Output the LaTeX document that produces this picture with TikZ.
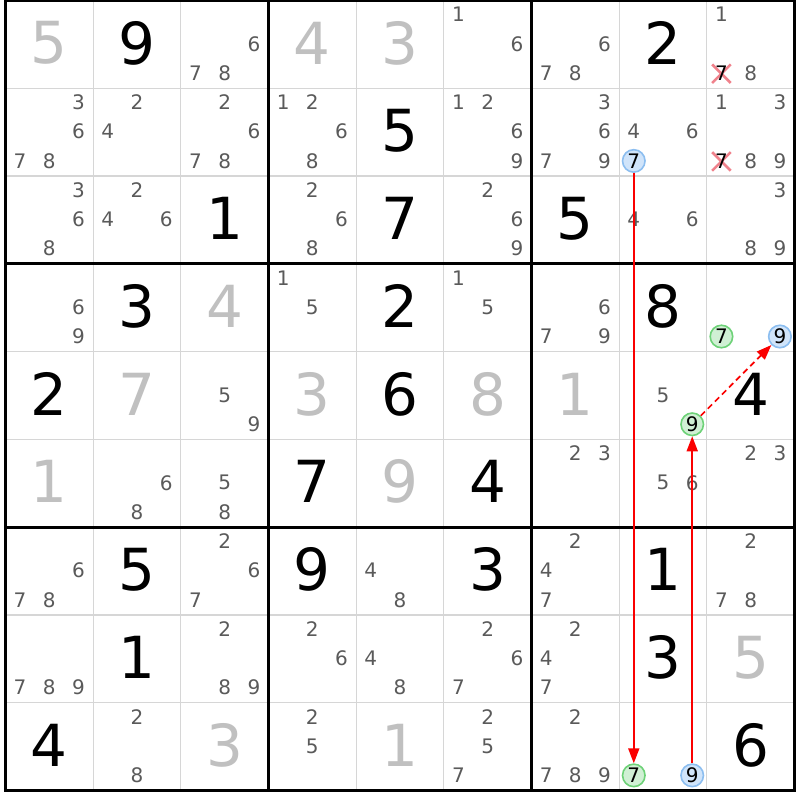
\documentclass[tikz,border=0pt]{standalone}
\usepackage{fontspec}
\setmainfont{DejaVu Sans}
\usetikzlibrary{arrows.meta,shapes.misc}
\definecolor{gridc}{RGB}{214,214,214}
\definecolor{cand}{RGB}{90,90,90}
\definecolor{given}{RGB}{0,0,0}
\definecolor{solved}{RGB}{192,192,192}
\definecolor{bfill}{RGB}{208,228,250}
\definecolor{bline}{RGB}{140,190,240}
\definecolor{gfill}{RGB}{208,240,212}
\definecolor{gline}{RGB}{110,210,120}
\definecolor{xmark}{RGB}{240,130,140}
\definecolor{link}{RGB}{250,0,0}
\begin{document}
\begin{tikzpicture}[x=1pt,y=-1pt,
  bigd/.style={inner sep=0pt, font=\fontsize{58}{58}\selectfont},
  smalld/.style={inner sep=0pt, text=cand, font=\fontsize{20}{20}\selectfont},
  circd/.style={circle, line width=1.6pt, minimum size=22.5pt, inner sep=0pt, text=black, font=\fontsize{20}{20}\selectfont},
  bluec/.style={circd, draw=bline, fill=bfill},
  greenc/.style={circd, draw=gline, fill=gfill},
  xout/.style={cross out, draw=xmark, line width=2.6pt, minimum size=16pt, inner sep=0pt},
  linkarrow/.style={draw=link, line width=1.7pt, -{Triangle[length=15pt,width=11pt]}},
  thinline/.style={draw=gridc, line width=1.3pt},
  thickline/.style={draw=black, line width=3pt}
]
\def\W{87.667}\def\H{87.778}\def\X{5.5}\def\Y{0.5}
\useasboundingbox (0,0) rectangle (800,800);
\fill[white] (0,0) rectangle (800,800);
% grid
\foreach \i in {1,2,4,5,7,8} {
  \draw[thinline] ({\X+\i*\W},\Y) -- ({\X+\i*\W},{\Y+9*\H});
  \draw[thinline] (\X,{\Y+\i*\H}) -- ({\X+9*\W},{\Y+\i*\H});
}
\foreach \i in {3,6} {
  \draw[thickline] ({\X+\i*\W},\Y) -- ({\X+\i*\W},{\Y+9*\H});
  \draw[thickline] (\X,{\Y+\i*\H}) -- ({\X+9*\W},{\Y+\i*\H});
}
\draw[thickline] (\X,\Y) rectangle ({\X+9*\W},{\Y+9*\H});
% big digits
\foreach \r/\q/\d/\k in {0/0/5/solved, 0/1/9/given, 0/3/4/solved, 0/4/3/solved, 0/7/2/given,
  1/4/5/given, 2/2/1/given, 2/4/7/given, 2/6/5/given,
  3/1/3/given, 3/2/4/solved, 3/4/2/given, 3/7/8/given,
  4/0/2/given, 4/1/7/solved, 4/3/3/solved, 4/4/6/given, 4/5/8/solved, 4/6/1/solved, 4/8/4/given,
  5/0/1/solved, 5/3/7/given, 5/4/9/solved, 5/5/4/given,
  6/1/5/given, 6/3/9/given, 6/5/3/given, 6/7/1/given,
  7/1/1/given, 7/7/3/given, 7/8/5/solved,
  8/0/4/given, 8/2/3/solved, 8/4/1/solved, 8/8/6/given}
  \node[bigd, text=\k] (g\r\q) at ({\X+(\q+0.5)*\W},{\Y+(\r+0.5)*\H-1.5}) {\d};
% candidates
\foreach \r/\q/\ds in {0/2/{6,7,8}, 0/5/{1,6}, 0/6/{6,7,8}, 0/8/{1,8},
  1/0/{3,6,7,8}, 1/1/{2,4}, 1/2/{2,6,7,8}, 1/3/{1,2,6,8}, 1/5/{1,2,6,9}, 1/6/{3,6,7,9}, 1/7/{4,6}, 1/8/{1,3,8,9},
  2/0/{3,6,8}, 2/1/{2,4,6}, 2/3/{2,6,8}, 2/5/{2,6,9}, 2/7/{4,6}, 2/8/{3,8,9},
  3/0/{6,9}, 3/3/{1,5}, 3/5/{1,5}, 3/6/{6,7,9},
  4/2/{5,9}, 4/7/{5},
  5/1/{6,8}, 5/2/{5,8}, 5/6/{2,3}, 5/7/{5,6}, 5/8/{2,3},
  6/0/{6,7,8}, 6/2/{2,6,7}, 6/4/{4,8}, 6/6/{2,4,7}, 6/8/{2,7,8},
  7/0/{7,8,9}, 7/2/{2,8,9}, 7/3/{2,6}, 7/4/{4,8}, 7/5/{2,6,7}, 7/6/{2,4,7},
  8/1/{2,8}, 8/3/{2,5}, 8/5/{2,5,7}, 8/6/{2,7,8,9}} {
  \foreach \d in \ds {
    \pgfmathtruncatemacro\kx{mod(\d-1,3)}
    \pgfmathtruncatemacro\ky{(\d-1)/3}
    \node[smalld] (c\r\q\d) at ({\X+\q*\W+(\kx+0.5)*\W/3},{\Y+\r*\H+(\ky+0.5)*\H/3-0.5}) {\d};
  }
}
% eliminated candidates
\foreach \r/\q/\d in {0/8/7, 1/8/7} {
  \pgfmathtruncatemacro\kx{mod(\d-1,3)}
  \pgfmathtruncatemacro\ky{(\d-1)/3}
  \node[xout] (x\r\q\d) at ({\X+\q*\W+(\kx+0.5)*\W/3},{\Y+\r*\H+(\ky+0.5)*\H/3}) {};
  \node[smalld, text=black] (c\r\q\d) at ({\X+\q*\W+(\kx+0.5)*\W/3},{\Y+\r*\H+(\ky+0.5)*\H/3-0.5}) {\d};
}
% highlighted candidates
\foreach \r/\q/\d/\s/\n in {1/7/7/bluec/B177, 8/7/7/greenc/G877, 8/7/9/bluec/B879,
  4/7/9/greenc/G479, 3/8/7/greenc/G387, 3/8/9/bluec/B389} {
  \pgfmathtruncatemacro\kx{mod(\d-1,3)}
  \pgfmathtruncatemacro\ky{(\d-1)/3}
  \node[\s] (\n) at ({\X+\q*\W+(\kx+0.5)*\W/3},{\Y+\r*\H+(\ky+0.5)*\H/3-0.5}) {\d};
}
% links
\draw[linkarrow] (B177) -- (G877);
\draw[linkarrow] (B879) -- (G479);
\draw[linkarrow, dash pattern=on 6pt off 4pt] (G479) -- (B389);
\end{tikzpicture}
\end{document}
